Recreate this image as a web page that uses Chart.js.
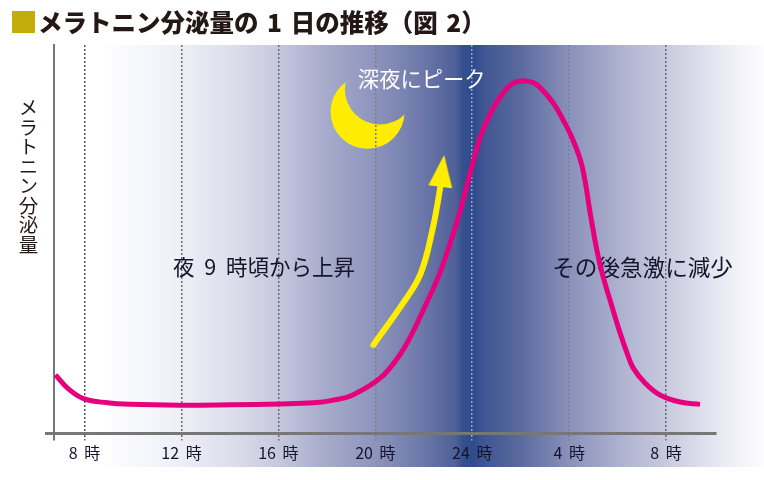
<!DOCTYPE html>
<html lang="ja"><head><meta charset="utf-8">
<script src="https://cdn.jsdelivr.net/npm/chart.js@4"></script>
<style>
html,body{margin:0;padding:0;background:#fff}
#wrap{position:relative;width:764px;height:480px;overflow:hidden}
canvas{display:block}
#ylab{position:absolute;left:15px;top:98px;writing-mode:vertical-rl;font:400 19.5px "Noto Sans CJK JP";color:#231815;line-height:26px;white-space:nowrap}
</style></head><body>
<div id="wrap"><canvas id="c" width="764" height="480"></canvas><div id="ylab">メラトニン分泌量</div></div>
<script>
const titleText = "メラトニン分泌量の 1 日の推移\uFF08図 2\uFF09";
const yAxisLabel = "メラトニン分泌量";
const tickHours = [8,12,16,20,24,28,32];
const tickLabels = ["8 時","12 時","16 時","20 時","24 時","4 時","8 時"];
const melatoninHours = [6.80,7.30,7.96,8.95,9.9,11.96,14.0,16.08,17.44,18.27,19.09,20.21,20.95,21.44,21.98,22.60,23.09,23.51,23.92,24.33,24.66,25.15,25.69,26.27,26.68,27.34,27.75,28.16,28.54,28.90,29.15,29.36,29.77,30.10,30.39,30.64,31.13,31.75,32.58,33.40];
const melatoninValues = [15.1,11.7,9.0,7.9,7.5,7.3,7.4,7.6,7.9,8.6,10.0,14.3,19.7,24.8,31.8,40.3,49.0,57.5,67.1,76.3,81.2,86.6,90.2,90.7,89.7,85.1,80.7,75.5,68.6,55.5,47.0,41.3,32.6,25.9,20.7,16.9,13.0,9.9,8.1,7.5];
const arrowHours = [19.92,21.15,21.86,22.36,22.68,22.76];
const arrowValues = [22.8,33.6,41.0,52.5,63.4,67.6];
const notes = [
  {text:"深夜にピーク", h:19.28, v:91.3, color:"#ffffff", size:21.3},
  {text:"夜 9 時頃から上昇", h:11.65, v:42.8, color:"#14142b", size:21.5},
  {text:"その後急激に減少", h:27.3, v:42.8, color:"#14142b", size:22.6}
];
const moon = {h:19.68, v:82.8};
const gridColors = ["#55555f","#6a6a74","#6a6a78","#7b7b92","#9aa3c4","#77809f","#666a80"];
const bandStops = [[0,"#ffffff"],[0.131,"#ffffff"],[0.237,"#eeeff6"],[0.314,"#d9dbe9"],[0.364,"#c6c8de"],[0.419,"#aaaecd"],[0.491,"#8d94bc"],[0.55,"#6f7aab"],[0.576,"#5c6ba0"],[0.596,"#4f6198"],[0.606,"#36508f"],[0.619,"#2e4b8c"],[0.632,"#3f5592"],[0.681,"#5b6a9f"],[0.746,"#8a91ba"],[0.812,"#aeb2cf"],[0.873,"#c8cade"],[0.942,"#e9e9f3"],[1,"#fdfdfe"]];
const FONT = '"Noto Sans CJK JP"';

const arrowHead = document.createElement("canvas");
arrowHead.width = 24; arrowHead.height = 32;
(function(){const g=arrowHead.getContext("2d");g.fillStyle="#ffed00";g.beginPath();g.moveTo(12,0);g.lineTo(24,32);g.lineTo(0,32);g.closePath();g.fill();})();

const scenery = {
  id:"scenery",
  beforeDraw(chart){
    const {ctx,scales:{x,y},width}=chart;
    ctx.wordSpacing="3px";
    ctx.save();
    const grad=ctx.createLinearGradient(0,0,width,0);
    bandStops.forEach(s=>grad.addColorStop(s[0],s[1]));
    ctx.fillStyle=grad;
    ctx.fillRect(0,chart.chartArea.top,width,467-chart.chartArea.top);
    ctx.fillStyle="#c4ac0a";
    ctx.fillRect(12,11,23,22);
    const mx=x.getPixelForValue(moon.h), my=y.getPixelForValue(moon.v);
    ctx.beginPath();
    ctx.rect(0,0,width,chart.height);
    ctx.arc(mx+12.5,my-22.5,35.2,0,Math.PI*2);
    ctx.clip("evenodd");
    ctx.fillStyle="#ffed00";
    ctx.beginPath();
    ctx.arc(mx,my,37,0,Math.PI*2);
    ctx.fill();
    ctx.restore();
  },
  beforeDatasetsDraw(chart){
    const {ctx,scales:{x,y}}=chart;
    ctx.save();
    ctx.textBaseline="middle";ctx.textAlign="left";
    ctx.wordSpacing="5px";
    notes.forEach(n=>{
      ctx.font=`400 ${n.size}px ${FONT}`;
      ctx.fillStyle=n.color;
      ctx.fillText(n.text,x.getPixelForValue(n.h),y.getPixelForValue(n.v));
    });
    ctx.restore();
  },
  afterDraw(chart){
    const {ctx,chartArea}=chart;
    ctx.save();
    ctx.strokeStyle="#777777";ctx.lineWidth=2;
    ctx.beginPath();
    ctx.moveTo(chartArea.left,chartArea.bottom);
    ctx.lineTo(chartArea.left,chartArea.bottom+7);
    ctx.stroke();
    ctx.restore();
  }
};

new Chart(document.getElementById("c"),{
  type:"line",
  data:{datasets:[
    {label:"メラトニン分泌量",data:melatoninHours.map((h,i)=>({x:h,y:melatoninValues[i]})),
     borderColor:"#e6007e",borderWidth:5,pointRadius:0,tension:0.4,fill:false,clip:false,order:2},
    {label:"上昇",data:arrowHours.map((h,i)=>({x:h,y:arrowValues[i]})),
     borderColor:"#ffed00",borderWidth:6,borderCapStyle:"round",tension:0.4,fill:false,clip:false,order:1,
     pointRadius:c=>c.dataIndex===arrowHours.length-1?12:0,
     pointStyle:arrowHead,pointRotation:7,pointBackgroundColor:"#ffed00",pointBorderWidth:0}
  ]},
  options:{
    responsive:false,animation:false,
    layout:{padding:{left:38,right:48,top:0,bottom:0}},
    plugins:{
      legend:{display:false},tooltip:{enabled:false},
      title:{display:true,text:titleText,align:"start",color:"#231815",
        font:{family:FONT,size:24.5,weight:"900",lineHeight:1.2},padding:{top:8,bottom:7.6}}
    },
    scales:{
      x:{type:"linear",min:6.74,max:34.06,
        afterBuildTicks:s=>{s.ticks=tickHours.map(v=>({value:v}));},
        afterFit:s=>{s.height=46.5;},
        grid:{drawOnChartArea:true,drawTicks:true,tickLength:7,lineWidth:1.5,
          color:c=>gridColors[c.index]||"#666",tickColor:c=>gridColors[c.index]||"#666",
          tickBorderDash:[2,2]},
        border:{display:true,color:"#777777",width:3,z:1,dash:[2,2]},
        ticks:{autoSkip:false,maxRotation:0,padding:3,color:"#14142b",
          font:{family:FONT,size:16,weight:"400"},
          callback:(v)=>{const i=tickHours.indexOf(v);return i<0?"":tickLabels[i];}}
      },
      y:{type:"linear",min:0,max:100,
        afterBuildTicks:s=>{s.ticks=[{value:0}];},
        afterFit:s=>{s.width=16;},
        grid:{drawOnChartArea:false,drawTicks:true,tickLength:9,tickColor:"#777777",tickWidth:3},
        border:{display:true,color:"#777777",width:2},
        ticks:{display:true,padding:0,callback:()=>""}
      }
    }
  },
  plugins:[scenery]
});
</script></body></html>
